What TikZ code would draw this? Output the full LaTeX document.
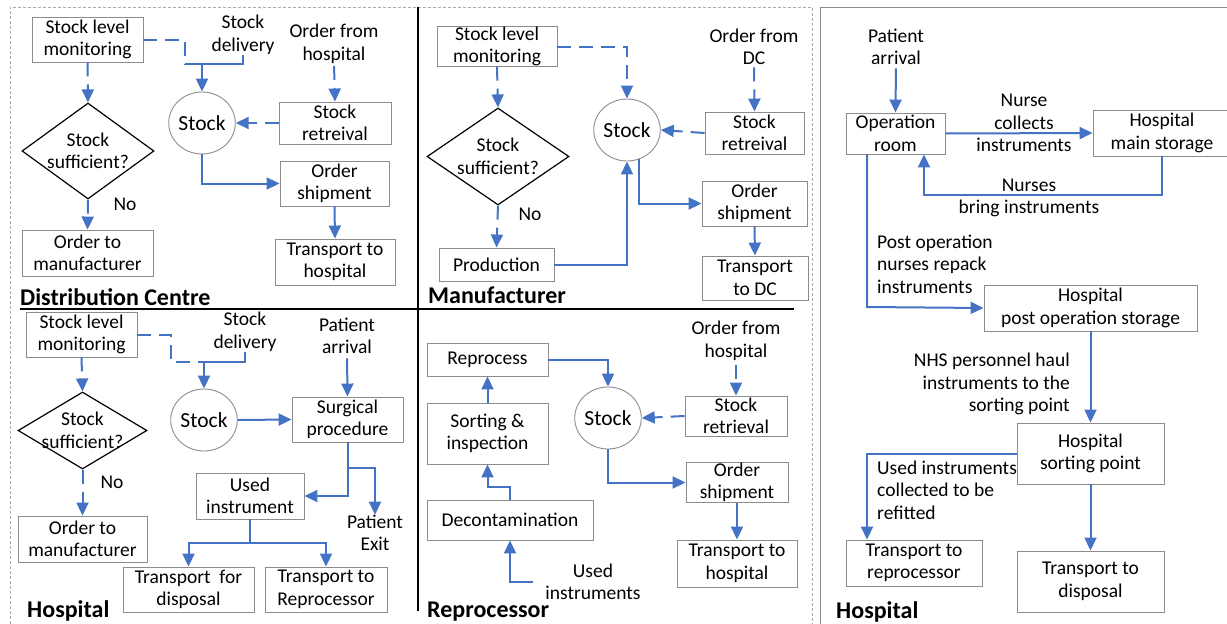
\documentclass[tikz,border=0pt]{standalone}
\usepackage{fontspec}
\setmainfont{Carlito}
\usepackage{tikz}
\usetikzlibrary{arrows.meta,shapes.geometric,calc}
\definecolor{flowBlue}{RGB}{68,114,196}
\definecolor{boxGray}{RGB}{140,140,140}
\definecolor{frameGray}{RGB}{170,170,170}

\begin{document}
\begin{tikzpicture}[x=1pt, y=-1pt,
    every node/.style={font=\fontsize{19.5}{22.5}\selectfont, align=center, inner sep=0pt},
    box/.style args={#1x#2}{draw=boxGray, line width=0.9pt, minimum width=#1pt, minimum height=#2pt},
    chk/.style args={#1x#2}{diamond, draw=black, line width=1.2pt, minimum width=#1pt, minimum height=#2pt},
    stock/.style={ellipse, draw=boxGray, line width=0.9pt, minimum width=66pt, minimum height=62pt, font=\fontsize{21.5}{24}\selectfont},
    title/.style={anchor=west, font=\fontsize{24}{26}\selectfont\bfseries},
    seg/.style={draw=flowBlue, line width=2pt},
    dseg/.style={seg, dash pattern=on 14pt off 8pt},
    link/.style={seg, -{Triangle[length=13pt, width=12pt]}},
    dlink/.style={link, dash pattern=on 14pt off 8pt}]
    \useasboundingbox (0,0) rectangle (1227,624);
    \draw[frameGray, line width=0.8pt, dash pattern=on 3pt off 2pt] (10,624) -- (10,7) -- (812,7) -- (812,624);
    \draw[boxGray, line width=1pt] (820,624) -- (820,7) -- (1227,7);
    \draw[black, line width=2pt] (418,7) -- (418,611);
    \draw[black, line width=2pt] (20,309) -- (794,309);

    \node[box=111x45] (dcMon) at (87.5,39.5) {Stock level\\monitoring};
    \node (dcDel) at (243,35) {Stock\\delivery};
    \node (dcOrd) at (334,44) {Order from\\hospital};
    \node[chk=132x96, label=center:{Stock\\sufficient?}] (dcChk) at (88,151) {};
    \node[stock] (dcStock) at (202,123) {Stock};
    \node[box=112x42] (dcRet) at (335,123) {Stock\\retreival};
    \node[box=109x45] (dcShip) at (334.5,183.5) {Order\\shipment};
    \node[box=120x46] (dcTrans) at (335,262) {Transport to\\hospital};
    \node[box=131x46] (dcMan) at (87.5,253) {Order to\\manufacturer};
    \node (dcNo) at (125,204) {No};
    \node[title] (dcTitle) at (20,297) {Distribution Centre};
    \coordinate (dcJ1) at (185,64);
    \coordinate (dcJ2) at (202,64);
    \draw[dlink] (dcMon.south) -- (dcChk.north);
    \draw[dseg] (dcMon.east) -| (dcJ1);
    \draw[seg] (dcDel.south) |- (dcJ1);
    \draw[link] (dcJ2) -- (dcStock.north);
    \draw[dlink, shorten <=2pt] (dcOrd.south) -- (dcRet.north);
    \draw[dlink] (dcRet.west) -- (dcStock.east);
    \draw[link] (dcStock.south) |- (dcShip.west);
    \draw[link] (dcShip.south) -- (dcTrans.north);
    \draw[dlink] (dcChk.south) -- (dcMan.north);

    \node[box=120x39] (mMon) at (497,46.5) {Stock level\\monitoring};
    \node (mOrd) at (754,47) {Order from\\DC};
    \node[chk=142x97, label=center:{Stock\\sufficient?}] (mChk) at (498,156.5) {};
    \node[stock] (mStock) at (627,130) {Stock};
    \node[box=99x42] (mRet) at (754.5,133) {Stock\\retreival};
    \node[box=105x45] (mShip) at (754.5,203.5) {Order\\shipment};
    \node[box=106x44] (mTrans) at (755,278) {Transport\\to DC};
    \node[box=115x33] (mProd) at (496.5,264.5) {Production};
    \node (mNo) at (530,214) {No};
    \node[title] (mTitle) at (428,295) {Manufacturer};
    \draw[dlink] (mMon.south) -- (mChk.north);
    \draw[dlink] (mMon.east) -| (mStock.north);
    \draw[dlink, shorten <=2pt] (mOrd.south) -- (mRet.north);
    \draw[dlink] (mRet.west) -- (mStock.east);
    \draw[dlink] (mChk.south) -- (mProd.north);
    \draw[link] (mProd.east) -| (mStock.south);
    \draw[link] (mStock.-68) |- (mShip.west);
    \draw[link] (mShip.south) -- (mTrans.north);

    \node[box=111x45] (hMon) at (81.5,334.5) {Stock level\\monitoring};
    \node (hDel) at (245,332) {Stock\\delivery};
    \node (hArr) at (347,336) {Patient\\arrival};
    \node[chk=129x77, label=center:{Stock\\sufficient?}] (hChk) at (82.5,430.5) {};
    \node[stock] (hStock) at (204,420) {Stock};
    \node[box=111x45] (hSurg) at (347.5,419.5) {Surgical\\procedure};
    \node[box=108x46] (hUsed) at (250,496) {Used\\instrument};
    \node[box=129x46] (hMan) at (82.5,539) {Order to\\manufacturer};
    \node[box=131x45] (hDisp) at (188.5,589.5) {Transport\ \ for\\disposal};
    \node[box=122x45] (hRep) at (326,589.5) {Transport to\\Reprocessor};
    \node (hExit) at (375,533) {Patient\\Exit};
    \node (hNo) at (112,482) {No};
    \node[title] (hTitle) at (27,611) {Hospital};
    \coordinate (hJ1) at (171,362);
    \coordinate (hJ2) at (204,362);
    \coordinate (hJ3) at (347.5,468);
    \coordinate (hJ4) at (250,543);
    \draw[dlink] (hMon.south) -- (hChk.north);
    \draw[dseg] (hMon.east) -| (hJ1) -- (hJ2);
    \draw[seg] (hDel.south) |- (hJ2);
    \draw[link] (hJ2) -- (hStock.north);
    \draw[link, shorten <=4pt] (hArr.south) -- (hSurg.north);
    \draw[link] (hStock.east) -- (hSurg.west);
    \draw[link] (hSurg.south) |- (hUsed.east);
    \draw[link] (hJ3) -| (hExit.north);
    \draw[link] (hUsed.south) -- (hJ4) -| (hDisp.north);
    \draw[link] (hJ4) -| (hRep.north);
    \draw[dlink] (hChk.south) -- (hMan.north);

    \node[box=121x33] (rRep) at (487.5,359.5) {Reprocess};
    \node[box=121x61] (rSort) at (487.5,433.5) {Sorting \&\\inspection};
    \node[box=166x40] (rDecon) at (510,520) {Decontamination};
    \node (rUsed) at (593,582) {Used\\instruments};
    \node[stock] (rStock) at (608,418) {Stock};
    \node (rOrd) at (736,341) {Order from\\hospital};
    \node[box=102x40] (rRet) at (736,416) {Stock\\retrieval};
    \node[box=102x37] (rShip) at (737,482.5) {Order\\shipment};
    \node[box=120x47] (rTrans) at (737,563.5) {Transport to\\hospital};
    \node[title] (rTitle) at (427,612) {Reprocessor};
    \coordinate (rJ1) at (510,487);
    \draw[link] (rRep.east) -| (rStock.north);
    \draw[link] (rSort.north) -- (rRep.south);
    \draw[link] (rDecon.north) -- (rJ1) -| (rSort.south);
    \draw[link, shorten <=12pt] (rUsed.west) -| (rDecon.south);
    \draw[dlink, shorten <=4pt] (rOrd.south) -- (rRet.north);
    \draw[dlink] (rRet.west) -- (rStock.east);
    \draw[link] (rStock.south) |- (rShip.west);
    \draw[link] (rShip.south) -- (rTrans.north);

    \node (pArr) at (896,47) {Patient\\arrival};
    \node[box=99x41] (pOp) at (895.5,133.5) {Operation\\room};
    \node[box=138x46] (pMain) at (1162,133) {Hospital\\main storage};
    \node (pColl) at (1024,123) {Nurse\\collects\\instruments};
    \node (pBring) at (1029,198) {Nurses\\bring instruments};
    \node[anchor=west, align=left] (pPost) at (877,264) {Post operation\\nurses repack\\instruments};
    \node[box=213x46] (pPostSt) at (1090.5,308) {Hospital\\post operation storage};
    \node[anchor=east, align=right] (pNhs) at (1070,384) {NHS personnel haul\\instruments to the\\sorting point};
    \node[box=147x61] (pSort) at (1090.5,453.5) {Hospital\\sorting point};
    \node[anchor=west, align=left] (pUsed) at (877,490) {Used instruments\\collected to be\\refitted};
    \node[box=136x46] (pTRep) at (914,563) {Transport to\\reprocessor};
    \node[box=147x61] (pTDisp) at (1090.5,581.5) {Transport to\\disposal};
    \node[title] (pTitle) at (836,612) {Hospital};
    \coordinate (pJ1) at (924,195);
    \coordinate (pJ2) at (867,307);
    \draw[link, shorten <=3pt] (pArr.south) -- (pOp.north);
    \draw[link] (pOp.east) -- (pMain.west);
    \draw[link] (pMain.south) |- (pJ1) -- (pJ1 |- pOp.south);
    \draw[link] (pJ2 |- pOp.south) -- (pJ2) -- (pPostSt.west);
    \draw[link] (pPostSt.south) -- (pSort.north);
    \draw[link] (pSort.west) -| (pJ2 |- pTRep.north);
    \draw[link] (pSort.south) -- (pTDisp.north);
\end{tikzpicture}
\end{document}
